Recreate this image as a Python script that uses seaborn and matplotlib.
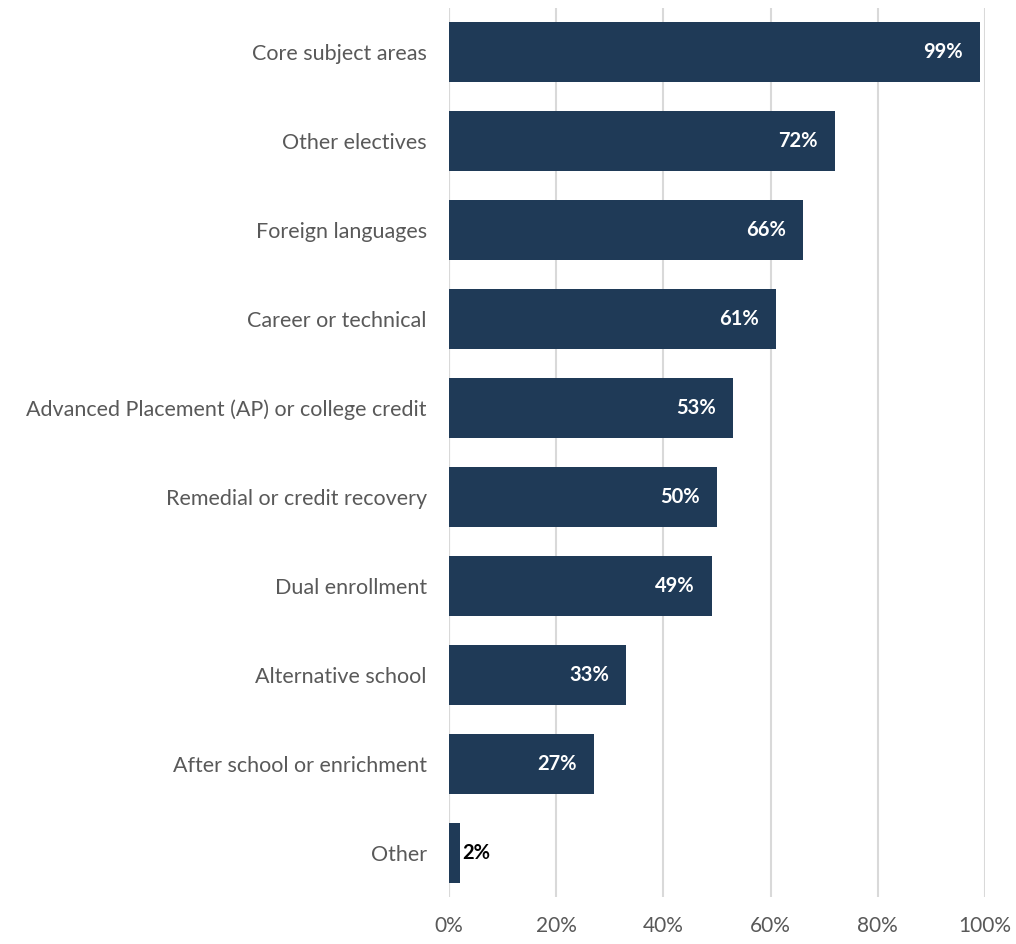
import matplotlib
matplotlib.use("Agg")
import matplotlib.pyplot as plt
import seaborn as sns
import pandas as pd

categories = [
    "Core subject areas",
    "Other electives",
    "Foreign languages",
    "Career or technical",
    "Advanced Placement (AP) or college credit",
    "Remedial or credit recovery",
    "Dual enrollment",
    "Alternative school",
    "After school or enrichment",
    "Other",
]
values = [99, 72, 66, 61, 53, 50, 49, 33, 27, 2]
xticks = [0, 20, 40, 60, 80, 100]

bar_color = "#1F3A57"
text_color = "#595959"
grid_color = "#D9D9D9"

sns.set_theme(style="white")
plt.rcParams["font.family"] = ["Lato", "DejaVu Sans"]

df = pd.DataFrame({"category": categories, "value": values})

fig = plt.figure(figsize=(10.16, 9.44), dpi=100)
ax = fig.add_axes([0.442, 0.0498, 0.5275, 0.9417])

sns.barplot(data=df, y="category", x="value", color=bar_color,
            width=0.675, saturation=1, linewidth=0, ax=ax, zorder=3)

ax.set_xlim(0, 100)
ax.set_xticks(xticks)
ax.set_xticklabels([f"{t}%" for t in xticks], fontsize=15, color=text_color)
ax.tick_params(axis="x", length=0, pad=14)
ax.tick_params(axis="y", length=0, pad=16, labelsize=15.5, labelcolor=text_color)
ax.set_xlabel("")
ax.set_ylabel("")
ax.grid(axis="x", color=grid_color, linewidth=1.5, zorder=0)
ax.grid(axis="y", visible=False)
for s in ax.spines.values():
    s.set_visible(False)
ax.axvline(0, color=grid_color, linewidth=1.5, zorder=2)

for i, v in enumerate(values):
    if v >= 10:
        ax.text(v - 3.2, i, f"{v}%", ha="right", va="center", color="white",
                fontsize=14.5, fontweight="bold", zorder=4)
    else:
        ax.text(v + 0.4, i, f"{v}%", ha="left", va="center", color="black",
                fontsize=14.5, fontweight="bold", zorder=4)

fig.savefig("out.png", dpi=100)
